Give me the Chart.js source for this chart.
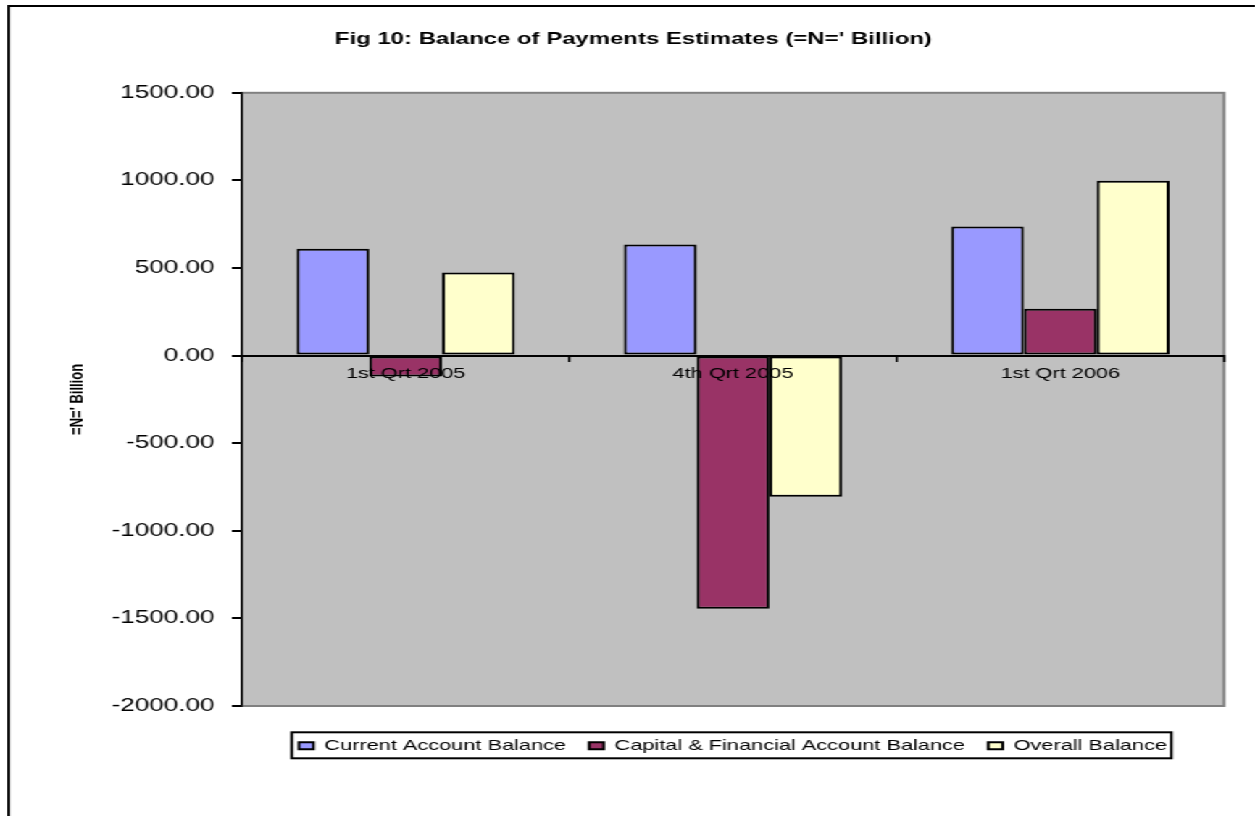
<!DOCTYPE html>
<html>
<head>
<meta charset="utf-8">
<title>Fig 10: Balance of Payments Estimates</title>
<script src="https://cdn.jsdelivr.net/npm/chart.js@4.4.0/dist/chart.umd.min.js"></script>
<style>
  html, body { margin: 0; padding: 0; background: #fff; overflow: hidden; }
  /* the original picture is stretched sideways, so the whole chart is too */
  #stage { position: absolute; left: 0; top: 0; width: 866px; height: 816px; transform: scaleX(1.4492); transform-origin: 0 0; overflow: hidden; }
  #frame { position: absolute; left: 5px; top: 5px; width: 1200px; height: 1200px; border: 2px solid #000; }
  #wrap { position: absolute; left: 0; top: 0; width: 866px; height: 816px; }
</style>
</head>
<body>
<div id="stage">
  <div id="frame"></div>
  <div id="wrap"><canvas id="bop-chart"></canvas></div>
</div>
<script>
const quarters = ["1st Qrt 2005", "4th Qrt 2005", "1st Qrt 2006"];
const currentAccount = [609.4, 634.2, 737.1];
const capitalFinancial = [-119.8, -1444.6, 266.9];
const overallBalance = [474.2, -805.1, 998.3];
const seriesNames = ["Current Account Balance", "Capital & Financial Account Balance", "Overall Balance"];
const yTicks = [-2000, -1500, -1000, -500, 0, 500, 1000, 1500];

const seriesColors = ["#9999ff", "#993366", "#ffffcc"];

Chart.defaults.font.family = '"Liberation Sans", Arial, sans-serif';
Chart.defaults.color = "#000";

// grey plot area like the Excel original
const plotBackground = {
  id: "plotBackground",
  beforeDraw(chart) {
    const { ctx, chartArea: a } = chart;
    ctx.save();
    ctx.fillStyle = "#c0c0c0";
    ctx.fillRect(a.left, a.top, a.width, a.height);
    ctx.strokeStyle = "#808080";
    ctx.lineWidth = 2;
    ctx.strokeRect(a.left, a.top, a.width, a.height);
    ctx.restore();
  }
};

// box around the legend items
const legendFrame = {
  id: "legendFrame",
  afterDraw(chart) {
    const boxes = chart.legend && chart.legend.legendHitBoxes;
    if (!boxes || !boxes.length) return;
    const first = boxes[0];
    const last = boxes[boxes.length - 1];
    const mid = first.top + first.height / 2;
    const left = first.left - 5;
    const right = last.left + last.width + 3;
    const ctx = chart.ctx;
    ctx.save();
    ctx.strokeStyle = "#000";
    ctx.lineWidth = 2;
    ctx.strokeRect(left, mid - 13.5, right - left, 26);
    ctx.restore();
  }
};

new Chart(document.getElementById("bop-chart"), {
  type: "bar",
  data: {
    labels: quarters,
    datasets: [currentAccount, capitalFinancial, overallBalance].map((values, i) => ({
      label: seriesNames[i],
      data: values,
      xAxisID: "x",
      backgroundColor: seriesColors[i],
      borderColor: "#000",
      borderWidth: 2,
      borderSkipped: false,
      categoryPercentage: 0.667,
      barPercentage: 1
    }))
  },
  options: {
    responsive: true,
    maintainAspectRatio: false,
    animation: false,
    layout: {
      padding: { left: 29.6, right: 21.4, top: 0, bottom: 52.7 }
    },
    plugins: {
      title: {
        display: true,
        text: "Fig 10: Balance of Payments Estimates (=N=' Billion)",
        color: "#000",
        font: { size: 16.5, weight: "bold" },
        padding: { top: 30, bottom: 43 }
      },
      legend: {
        position: "bottom",
        fullSize: false,
        labels: {
          color: "#000",
          font: { size: 15 },
          boxWidth: 10,
          boxHeight: 7,
          padding: 16
        }
      },
      tooltip: { enabled: false }
    },
    scales: {
      x: {
        position: { y: 0 },
        offset: true,
        border: { color: "#000", width: 2 },
        grid: { offset: true, drawOnChartArea: false, drawTicks: true, tickLength: 5, color: "#000", lineWidth: 1.5 },
        ticks: { color: "#000", padding: 4, font: { size: 15 }, z: 1, maxRotation: 0, autoSkip: false }
      },
      // keeps a gap between the plot and the legend
      xb: {
        type: "category",
        position: "bottom",
        grid: { display: false },
        border: { display: false },
        ticks: { display: false },
        afterFit: (scale) => { scale.height = 16.3; }
      },
      y: {
        min: yTicks[0],
        max: yTicks[yTicks.length - 1],
        afterBuildTicks: (scale) => { scale.ticks = yTicks.map(v => ({ value: v })); },
        afterFit: (scale) => { scale.width = 137.4; },
        border: { color: "#000", width: 1.5 },
        grid: { drawOnChartArea: false, drawTicks: true, tickLength: 7, color: "#000", lineWidth: 2 },
        ticks: {
          color: "#000",
          padding: 12,
          font: { size: 18 },
          callback: (v) => Number(v).toFixed(2)
        },
        title: {
          display: true,
          text: "=N=' Billion",
          color: "#000",
          font: { size: 13, weight: "bold" },
          padding: { top: 16, bottom: 0 }
        }
      }
    }
  },
  plugins: [plotBackground, legendFrame]
});
</script>
</body>
</html>
